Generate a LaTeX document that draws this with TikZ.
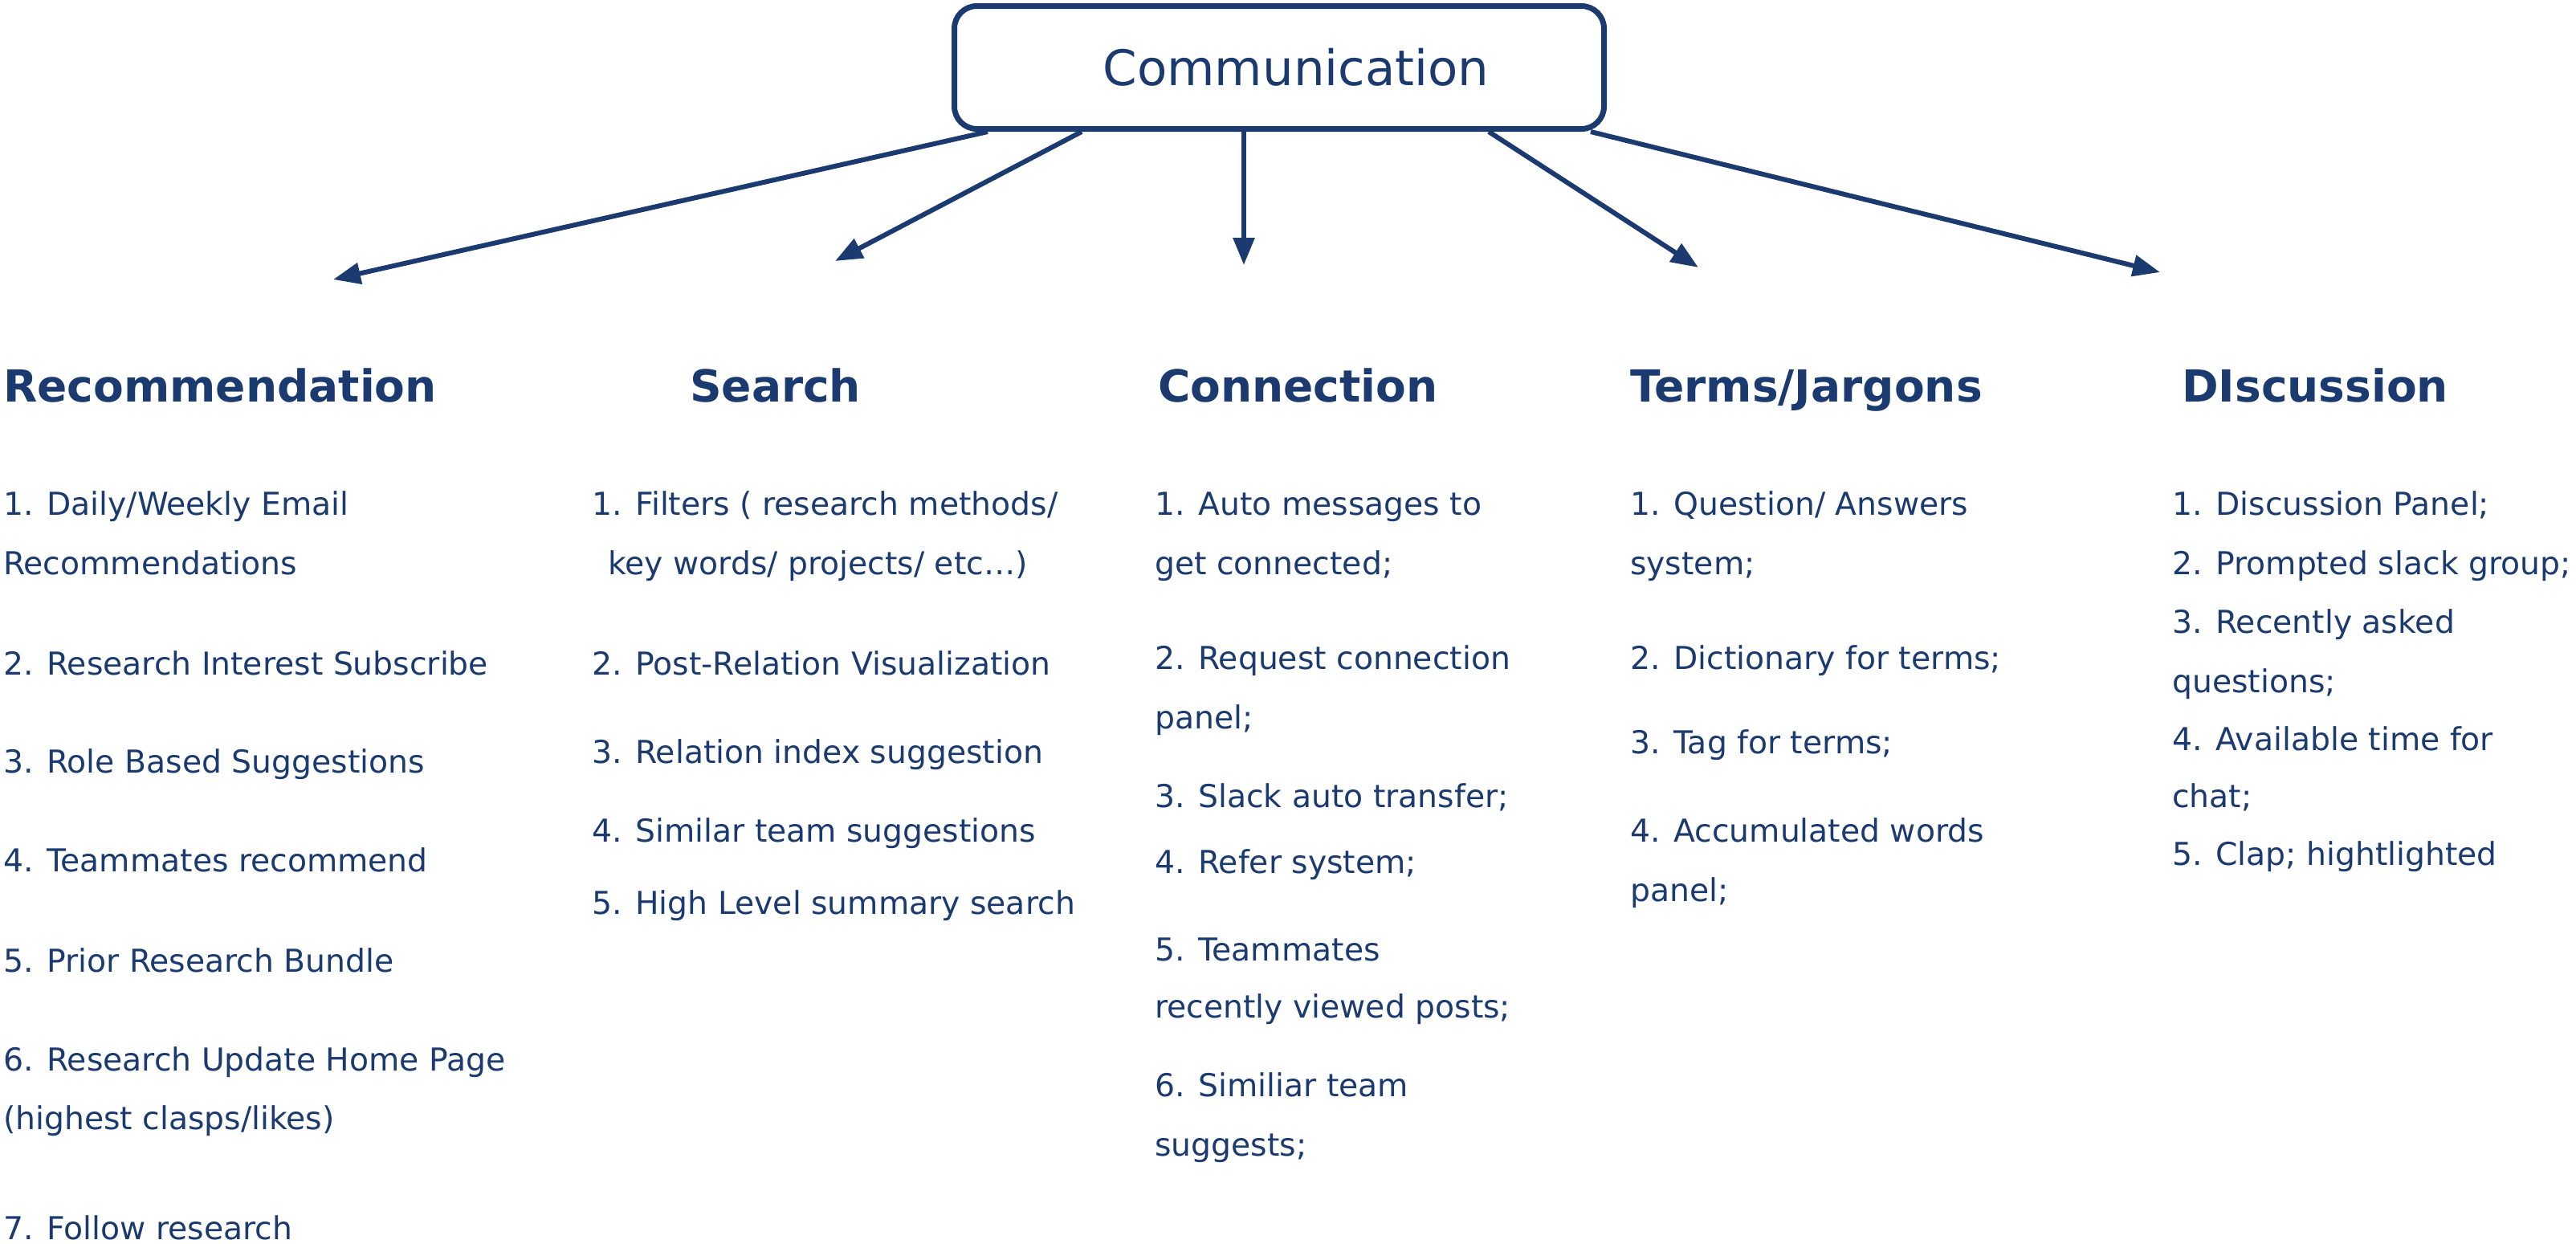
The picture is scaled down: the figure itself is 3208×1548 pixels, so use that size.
\documentclass[tikz,border=0pt]{standalone}
\usepackage{fontspec}
\setmainfont{DejaVu Sans}
\usetikzlibrary{arrows.meta}
\definecolor{navy}{RGB}{27,58,112}
\begin{document}
\begin{tikzpicture}[x=1pt,y=-1pt,
  item/.style={anchor=base west, inner sep=0pt, text=navy, font=\fontsize{39.3}{48}\selectfont},
  head/.style={anchor=base west, inner sep=0pt, text=navy, font=\fontsize{55}{66}\selectfont\bfseries},
  conn/.style={draw=navy, line width=6pt, -{Triangle[length=34pt,width=26pt]}},
  topbox/.style={draw=navy, line width=7pt, rounded corners=28pt, minimum width=809pt, minimum height=153pt, text=navy, font=\fontsize{61}{72}\selectfont}
]
\fill[white] (0,0) rectangle (3208,1548);
\useasboundingbox (0,0) rectangle (3208,1548);

\node[topbox] (comm) at (1593,84) {\hspace*{42pt}Communication};

\coordinate (tip1) at (415,348);
\coordinate (tip2) at (1040,325);
\coordinate (tip3) at (1549,330);
\coordinate (tip4) at (2115,333);
\coordinate (tip5) at (2690,339);
\draw[conn] ([xshift=-363pt]comm.south) -- (tip1);
\draw[conn] ([xshift=-246pt]comm.south) -- (tip2);
\draw[conn] ([xshift=-44pt]comm.south) -- (tip3);
\draw[conn] ([xshift=261pt]comm.south) -- (tip4);
\draw[conn] ([xshift=388pt]comm.south) -- (tip5);

% headings
\node[head] (h1) at (4,500) {Recommendation};
\node[head] (h2) at (859,500) {Search};
\node[head] (h3) at (1442,500) {Connection};
\node[head] (h4) at (2030,500) {Terms/Jargons};
\node[head] (h5) at (2717,500) {DIscussion};

% Recommendation
\node[item] (r1) at (4,641) {1. Daily/Weekly Email};
\node[item] (r2) at (4,715) {Recommendations};
\node[item] (r3) at (4,840) {2. Research Interest Subscribe};
\node[item] (r4) at (4,962) {3. Role Based Suggestions};
\node[item] (r5) at (4,1085) {4. Teammates recommend};
\node[item] (r6) at (4,1210) {5. Prior Research Bundle};
\node[item] (r7) at (4,1333) {6. Research Update Home Page};
\node[item] (r8) at (4,1406) {(highest clasps/likes)};
\node[item] (r9) at (4,1543) {7. Follow research};

% Search
\node[item] (s1) at (737,641) {1. Filters ( research methods/};
\node[item] (s2) at (757,715) {key words/ projects/ etc…)};
\node[item] (s3) at (737,840) {2. Post-Relation Visualization};
\node[item] (s4) at (737,950) {3. Relation index suggestion};
\node[item] (s5) at (737,1048) {4. Similar team suggestions};
\node[item] (s6) at (737,1138) {5. High Level summary search};

% Connection
\node[item] (c1) at (1438,641) {1. Auto messages to};
\node[item] (c2) at (1438,715) {get connected;};
\node[item] (c3) at (1438,833) {2. Request connection};
\node[item] (c4) at (1438,907) {panel;};
\node[item] (c5) at (1438,1005) {3. Slack auto transfer;};
\node[item] (c6) at (1438,1087) {4. Refer system;};
\node[item] (c7) at (1438,1196) {5. Teammates};
\node[item] (c8) at (1438,1267) {recently viewed posts;};
\node[item] (c9) at (1438,1365) {6. Similiar team};
\node[item] (c10) at (1438,1439) {suggests;};

% Terms/Jargons
\node[item] (t1) at (2030,641) {1. Question/ Answers};
\node[item] (t2) at (2030,715) {system;};
\node[item] (t3) at (2030,833) {2. Dictionary for terms;};
\node[item] (t4) at (2030,938) {3. Tag for terms;};
\node[item] (t5) at (2030,1048) {4. Accumulated words};
\node[item] (t6) at (2030,1122) {panel;};

% Discussion
\node[item] (d1) at (2705,641) {1. Discussion Panel;};
\node[item] (d2) at (2705,715) {2. Prompted slack group;};
\node[item] (d3) at (2705,788) {3. Recently asked};
\node[item] (d4) at (2705,862) {questions;};
\node[item] (d5) at (2705,934) {4. Available time for};
\node[item] (d6) at (2705,1005) {chat;};
\node[item] (d7) at (2705,1077) {5. Clap; hightlighted};
\end{tikzpicture}
\end{document}
